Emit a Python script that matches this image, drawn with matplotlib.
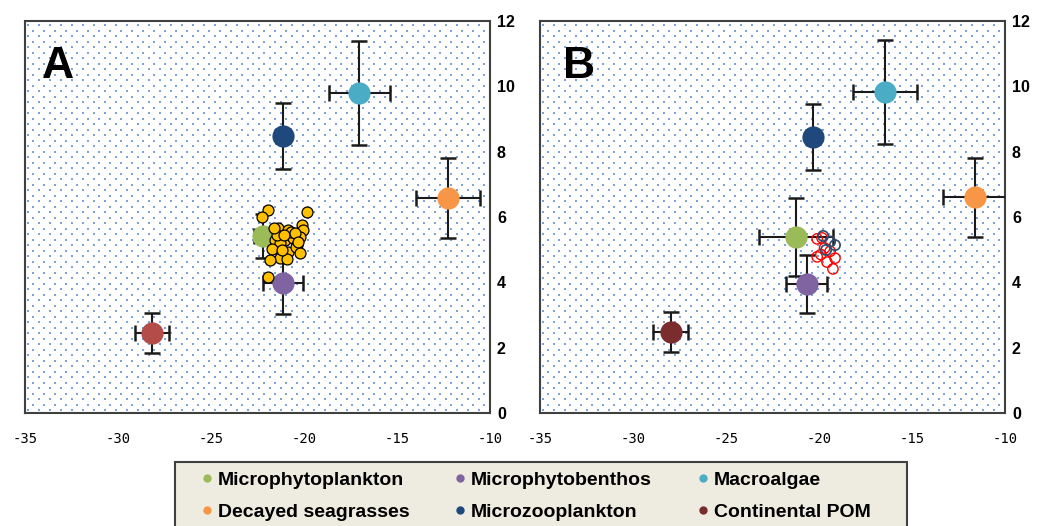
import numpy as np
import matplotlib
matplotlib.use("Agg")
import matplotlib.pyplot as plt
from matplotlib.lines import Line2D
from matplotlib.patches import Rectangle

plt.rcParams['axes.unicode_minus'] = False

W, H = 1062, 526

# sources (mean +- sd)
sources = ['Microphytoplankton', 'Microphytobenthos', 'Macroalgae',
           'Decayed seagrasses', 'Microzooplankton', 'Continental POM']
colors = ['#9BBB59', '#8064A2', '#4BACC6', '#F79646', '#1F497D', '#7B2C2C']
colors_a = ['#9BBB59', '#8064A2', '#4BACC6', '#F79646', '#1F497D', '#B44C4A']

a_x = [-22.2, -21.13, -17.04, -12.26, -21.13, -28.17]
a_y = [5.42, 3.98, 9.79, 6.58, 8.48, 2.45]
a_xerr = [0.5, 1.07, 1.64, 1.72, 0.4, 0.89]
a_yerr = [0.67, 0.95, 1.59, 1.22, 1.0, 0.61]

b_x = [-21.24, -20.65, -16.45, -11.61, -20.32, -27.96]
b_y = [5.39, 3.95, 9.82, 6.6, 8.45, 2.48]
b_xerr = [2.0, 1.1, 1.7, 1.72, 0.4, 0.94]
b_yerr = [1.2, 0.9, 1.6, 1.22, 1.0, 0.6]

# consumers, panel A
cons_a_x = [-21.94, -22.26, -19.84, -21.4, -20.86, -20.1, -20.05, -20.2, -21.56,
            -21.0, -20.6, -20.38, -21.3, -21.7, -20.86, -20.43, -21.3, -20.9,
            -21.83, -21.94, -21.2, -21.45, -20.2, -20.7, -21.1, -20.5, -21.6, -20.3]
cons_a_y = [6.21, 6.0, 6.15, 5.66, 5.6, 5.75, 5.6, 5.39, 5.3,
            5.3, 5.36, 5.14, 5.2, 5.02, 4.93, 5.08, 4.74, 4.71,
            4.68, 4.16, 4.99, 5.45, 4.9, 5.55, 5.45, 5.5, 5.65, 5.25]

# consumers, panel B
red_x = [-20.1, -19.84, -19.7, -20.1, -19.57, -19.14, -19.25, -19.4, -19.9]
red_y = [5.33, 5.36, 5.05, 4.78, 4.62, 4.74, 4.41, 4.95, 4.85]
dark_x = [-19.78, -19.14, -19.62, -19.4]
dark_y = [5.42, 5.14, 4.99, 5.25]

fig = plt.figure(figsize=(W / 100, H / 100), dpi=100)
ax_a = fig.add_axes([25 / W, 1 - 413 / H, 465 / W, 392 / H])
ax_b = fig.add_axes([540 / W, 1 - 413 / H, 465 / W, 392 / H])


def dotted_background(ax):
    # staggered light-blue dot texture of the plot area
    dx, dy = 11 / 465, 5.5 / 392
    pts = []
    for r, yy in enumerate(np.arange(dy / 2, 1, dy)):
        start = dx / 4 if r % 2 == 0 else dx * 3 / 4
        for xx in np.arange(start, 1, dx):
            pts.append((xx, yy))
    pts = np.array(pts)
    ax.scatter(pts[:, 0], pts[:, 1], s=1.5, marker='s', c='#7FA3D4',
               linewidths=0, transform=ax.transAxes, zorder=0.5)


def style_axes(ax, letter, lx):
    ax.set_xlim(-35, -10)
    ax.set_ylim(0, 12)
    ax.set_xticks(range(-35, -9, 5))
    ax.set_yticks(range(0, 13, 2))
    ax.yaxis.tick_right()
    ax.tick_params(axis='y', length=0, pad=5, labelsize=11.5)
    ax.tick_params(axis='x', length=0, pad=14, labelsize=10)
    for lab in ax.get_yticklabels():
        lab.set_fontfamily('Liberation Sans')
        lab.set_fontweight('bold')
    for lab in ax.get_xticklabels():
        lab.set_fontfamily('DejaVu Sans Mono')
    for sp in ax.spines.values():
        sp.set_color('#404040')
        sp.set_linewidth(1.5)
    dotted_background(ax)
    ax.text(lx, 0.855, letter, transform=ax.transAxes, fontsize=32,
            fontweight='bold', family='Liberation Sans', va='baseline')


def draw_sources(ax, xs, ys, xe, ye, cols):
    for i in range(len(xs)):
        ax.errorbar(xs[i], ys[i], xerr=xe[i], yerr=ye[i], fmt='o', ms=16,
                    mfc=cols[i], mec='none', ecolor='#1a1a1a', elinewidth=1.5,
                    capsize=6, capthick=1.8, zorder=3)


style_axes(ax_a, 'A', 0.037)
style_axes(ax_b, 'B', 0.05)

draw_sources(ax_a, a_x, a_y, a_xerr, a_yerr, colors_a)
ax_a.scatter(cons_a_x, cons_a_y, s=62, c='#FFC000', edgecolors='black',
             linewidths=0.9, zorder=5)

draw_sources(ax_b, b_x, b_y, b_xerr, b_yerr, colors)
ax_b.scatter(red_x, red_y, s=55, facecolors='none', edgecolors='#FF0000',
             linewidths=1.0, zorder=5)
ax_b.scatter(dark_x, dark_y, s=55, facecolors='none', edgecolors='#2F4A6B',
             linewidths=1.2, zorder=6)

# legend box drawn separately, runs off the bottom edge
fig.patches.append(Rectangle((175 / W, -0.02), 732 / W, 1 - 462 / H + 0.02,
                             transform=fig.transFigure, facecolor='#EEECE1',
                             edgecolor='#404040', linewidth=1.5, zorder=0))

# legend, filled row by row like the original
order = [0, 3, 1, 4, 2, 5]
handles = [Line2D([], [], ls='none', marker='o', ms=6, mfc=colors[i],
                  mec='none', label=sources[i]) for i in order]
leg = fig.legend(handles=handles, loc='upper left', ncol=3,
                 bbox_to_anchor=(201 / W, 1 - 471 / H), frameon=False,
                 handlelength=0.6, handletextpad=0.27, columnspacing=2.3,
                 borderpad=0, borderaxespad=0, labelspacing=0.75,
                 prop={'family': 'Liberation Sans', 'weight': 'bold',
                       'size': 14})

fig.savefig('out.png', dpi=100)
